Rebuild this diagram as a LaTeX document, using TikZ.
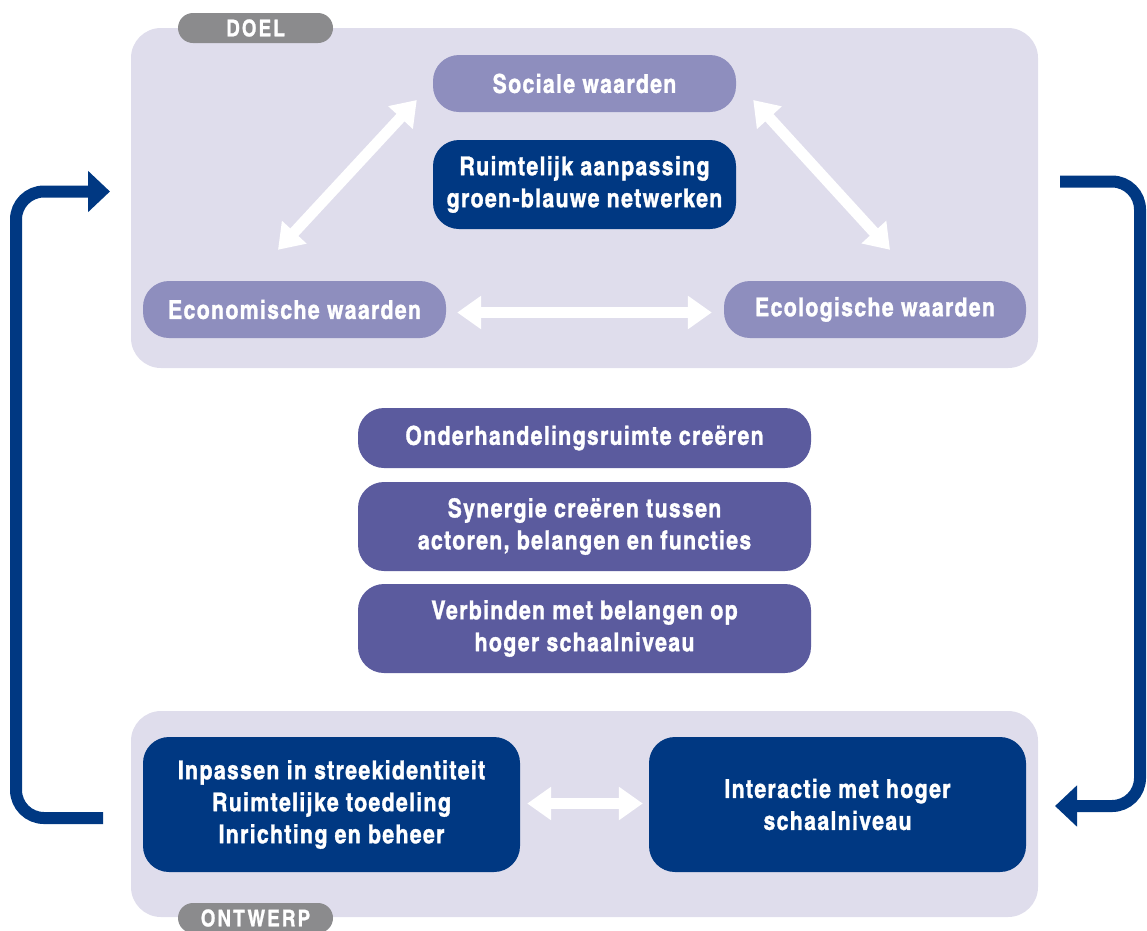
\documentclass[tikz,border=0pt]{standalone}
\usepackage{fontspec}
\newfontfamily\cnfont{texgyreheroscn}[Extension=.otf,UprightFont=*-bold,BoldFont=*-bold,LetterSpace=5,FakeBold=1.2]
\newfontfamily\tagfont{texgyreheroscn}[Extension=.otf,UprightFont=*-bold,BoldFont=*-bold,LetterSpace=9,FakeBold=1]
\usepackage{tikz}
\usetikzlibrary{arrows.meta}

\definecolor{vlak}{HTML}{DFDDEC}
\definecolor{label}{HTML}{8B8B8D}
\definecolor{licht}{HTML}{8E8EBE}
\definecolor{midden}{HTML}{5B5B9E}
\definecolor{donker}{HTML}{003882}

\begin{document}
\begin{tikzpicture}[x=1pt,y=-1pt,
  box/.style={rounded corners=26pt,text=white,align=center,
    font=\cnfont\fontsize{26}{32}\selectfont,inner sep=0pt},
  tag/.style={fill=label,rounded corners=15pt,text=white,
    font=\tagfont\fontsize{23}{24}\selectfont,minimum width=155pt,inner sep=0pt},
  wpijl/.style={white,line width=11pt,{Triangle[width=32pt,length=24pt]}-{Triangle[width=32pt,length=24pt]}},
  bpijl/.style={donker,line width=12pt,rounded corners=28pt,-{Triangle[width=40pt,length=22pt]}}]

\clip (0,0) rectangle (1147,930) ;

% vlakken
\fill[vlak,rounded corners=30pt] (131,28) rectangle (1038,368) ;
\fill[vlak,rounded corners=30pt] (131,711) rectangle (1038,917) ;

\node[tag,minimum height=30pt] (doel) at (255.5,28) {DOEL} ;
\node[tag,minimum height=30pt] (ontwerp) at (255.5,918) {ONTWERP} ;

% doel
\node[box,fill=licht,minimum width=303pt,minimum height=57pt] (soc) at (584.5,83.5) {Sociale waarden} ;
\node[box,fill=donker,minimum width=303pt,minimum height=89pt] (ruimte) at (584.5,184.5)
  {Ruimtelijk aanpassing\\groen-blauwe netwerken} ;
\node[box,fill=licht,minimum width=303pt,minimum height=57pt] (econ) at (294.5,309.5) {Economische waarden} ;
\node[box,fill=licht,minimum width=302pt,minimum height=57pt] (eco) at (875,309.5) {Ecologische waarden} ;

\draw[wpijl] ([xshift=-16.5pt,yshift=31pt]econ.north) -- ([xshift=-16pt,yshift=-16.5pt]soc.west) ;
\draw[wpijl] ([xshift=17pt,yshift=-16.5pt]soc.east) -- ([xshift=15pt,yshift=31pt]eco.north) ;
\draw[wpijl] ([xshift=11pt,yshift=-3pt]econ.east) -- ([xshift=-12pt,yshift=-3pt]eco.west) ;

% midden
\node[box,fill=midden,minimum width=453pt,minimum height=60pt] (onder) at (584.5,438) {Onderhandelingsruimte creëren} ;
\node[box,fill=midden,minimum width=453pt,minimum height=89pt] (syn) at (584.5,526.5)
  {Synergie creëren tussen\\actoren, belangen en functies} ;
\node[box,fill=midden,minimum width=453pt,minimum height=89pt] (verb) at (584.5,628.5)
  {Verbinden met belangen op\\hoger schaalniveau} ;

% ontwerp
\node[box,fill=donker,minimum width=377pt,minimum height=135pt] (inp) at (331.5,804.5)
  {Inpassen in streekidentiteit\\Ruimtelijke toedeling\\Inrichting en beheer} ;
\node[box,fill=donker,minimum width=377pt,minimum height=135pt] (inter) at (837.5,804.5)
  {Interactie met hoger\\schaalniveau} ;

\draw[wpijl] ([xshift=7pt,yshift=1pt]inp.east) -- ([xshift=-6pt,yshift=1pt]inter.west) ;

% terugkoppeling
\coordinate (lstart) at (103,818) ;
\coordinate (lend) at (110,191.5) ;
\coordinate (rstart) at (1060,181.5) ;
\coordinate (rend) at (1055,806) ;

\draw[bpijl] (lstart) -- ++(-87,0) |- (lend) ;
\draw[bpijl] (rstart) -- ++(80,0) |- (rend) ;

\end{tikzpicture}
\end{document}
